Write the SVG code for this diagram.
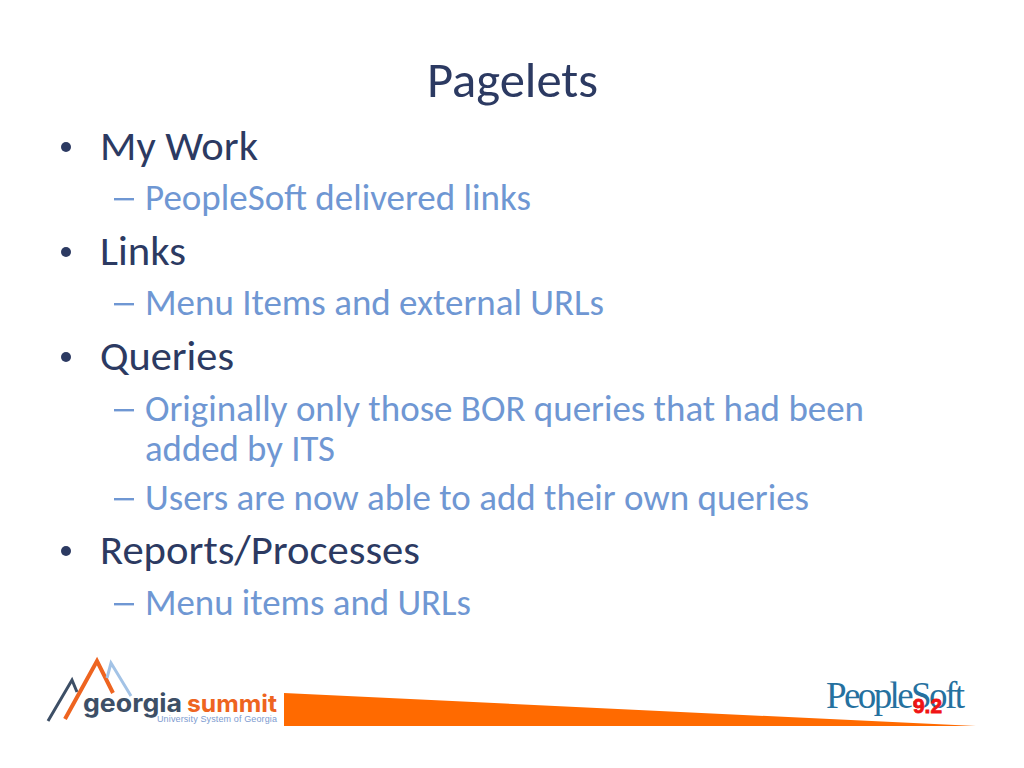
<svg xmlns="http://www.w3.org/2000/svg" width="1024" height="768" viewBox="0 0 1024 768">
<style>
text{font-family:"Carlito","Open Sans","Liberation Sans",sans-serif}
.b1{font-size:42px;fill:#2c3a62}
.b2{font-size:37px;fill:#6f97d3}
.dot{fill:#2c3a62}
.dash{fill:#6f97d3}
.logo{font-family:"Inter","Liberation Sans",sans-serif;font-weight:700}
</style>
<rect width="1024" height="768" fill="#fff"/>
<text x="427" y="97" font-size="50" fill="#2c3a62" id="title" textLength="171" lengthAdjust="spacingAndGlyphs">Pagelets</text>
<g id="bullets">
<circle class="dot" cx="66" cy="147" r="5"/>
<circle class="dot" cx="66" cy="252" r="5"/>
<circle class="dot" cx="66" cy="357" r="5"/>
<circle class="dot" cx="66" cy="551" r="5"/>
</g>
<g id="dashes">
<rect class="dash" x="114" y="198" width="20" height="2.4"/>
<rect class="dash" x="114" y="303" width="20" height="2.4"/>
<rect class="dash" x="114" y="409" width="20" height="2.4"/>
<rect class="dash" x="114" y="498" width="20" height="2.4"/>
<rect class="dash" x="114" y="603" width="20" height="2.4"/>
</g>
<g id="content">
<text class="b1" x="100" y="160" textLength="158" lengthAdjust="spacingAndGlyphs">My Work</text>
<text class="b2" x="145" y="210" textLength="386" lengthAdjust="spacingAndGlyphs">PeopleSoft delivered links</text>
<text class="b1" x="100" y="265" textLength="86" lengthAdjust="spacingAndGlyphs">Links</text>
<text class="b2" x="145" y="315" textLength="459" lengthAdjust="spacingAndGlyphs">Menu Items and external URLs</text>
<text class="b1" x="100" y="370" textLength="134" lengthAdjust="spacingAndGlyphs">Queries</text>
<text class="b2" x="145" y="421" textLength="719" lengthAdjust="spacingAndGlyphs">Originally only those BOR queries that had been</text>
<text class="b2" x="145" y="461" textLength="190" lengthAdjust="spacingAndGlyphs">added by ITS</text>
<text class="b2" x="145" y="510" textLength="664" lengthAdjust="spacingAndGlyphs">Users are now able to add their own queries</text>
<text class="b1" x="100" y="564" textLength="320" lengthAdjust="spacingAndGlyphs">Reports/Processes</text>
<text class="b2" x="145" y="615" textLength="326" lengthAdjust="spacingAndGlyphs">Menu items and URLs</text>
</g>
<g id="banner"><polygon points="284,693 976,726 284,726" fill="#ff6a00"/></g>
<g id="logo-georgia">
<polyline points="48,721 72,680 77,692" fill="none" stroke="#3d4f66" stroke-width="3"/>
<polyline points="65,719 97,661 113,693" fill="none" stroke="#ee6420" stroke-width="4"/>
<polyline points="107,678 111,663 131,696" fill="none" stroke="#a3c3e6" stroke-width="3"/>
<text class="logo" x="83" y="712" font-size="25" fill="#3d4f66" textLength="99" lengthAdjust="spacingAndGlyphs">georgia</text>
<text class="logo" x="187" y="712" font-size="24" fill="#ee6420" textLength="90" lengthAdjust="spacingAndGlyphs">summit</text>
<text x="157" y="722" font-size="9" style="font-family:'Liberation Sans',sans-serif" fill="#7d9bd0" textLength="120" lengthAdjust="spacing">University System of Georgia</text>
</g>
<g id="logo-peoplesoft">
<text x="826" y="708" font-size="37" style="font-family:'Liberation Serif',serif" fill="#25719f" textLength="139" lengthAdjust="spacing">PeopleSoft</text>
<text x="913" y="713" font-size="21" font-weight="700" style="font-family:'Liberation Sans',sans-serif" fill="#f01414" stroke="#f01414" stroke-width="0.8" textLength="29" lengthAdjust="spacingAndGlyphs">9.2</text>
</g>
</svg>
